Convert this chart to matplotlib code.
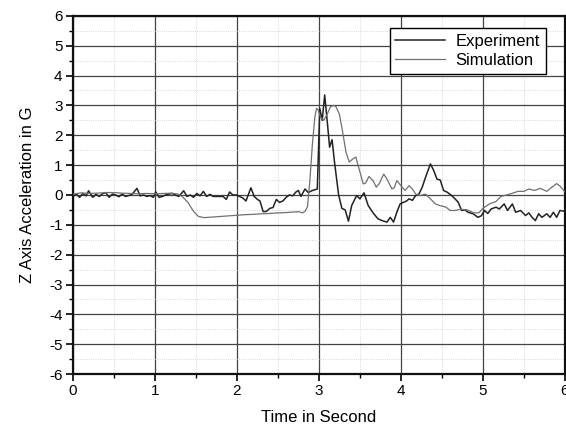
import numpy as np
import matplotlib
matplotlib.use('Agg')
import matplotlib.pyplot as plt
from matplotlib.ticker import MultipleLocator

# experiment (measured) z-axis acceleration
exp_t = [0.00, 0.04, 0.08, 0.12, 0.16, 0.19, 0.24, 0.28, 0.32, 0.36, 0.40, 0.44, 0.48, 0.52,
         0.56, 0.60, 0.64, 0.68, 0.72, 0.78, 0.82, 0.86, 0.90, 0.94, 0.98, 1.01, 1.05, 1.09,
         1.13, 1.17, 1.21, 1.25, 1.29, 1.35, 1.39, 1.43, 1.47, 1.51, 1.55, 1.59, 1.63, 1.67,
         1.71, 1.75, 1.79, 1.83, 1.87, 1.91, 1.95, 1.99, 2.03, 2.07, 2.11, 2.17, 2.21, 2.25,
         2.28, 2.32, 2.36, 2.40, 2.44, 2.48, 2.52, 2.56, 2.60, 2.64, 2.68, 2.72, 2.75, 2.78,
         2.83, 2.87, 2.92, 2.98, 3.01, 3.04, 3.07, 3.10, 3.13, 3.16, 3.19, 3.24, 3.28, 3.32,
         3.36, 3.40, 3.46, 3.50, 3.55, 3.60, 3.66, 3.72, 3.77, 3.83, 3.87, 3.91, 3.95, 3.99,
         4.03, 4.07, 4.10, 4.14, 4.18, 4.22, 4.26, 4.30, 4.36, 4.40, 4.44, 4.48, 4.52, 4.56,
         4.62, 4.66, 4.70, 4.74, 4.78, 4.82, 4.88, 4.94, 4.98, 5.02, 5.06, 5.10, 5.16, 5.20,
         5.26, 5.30, 5.36, 5.40, 5.46, 5.52, 5.56, 5.60, 5.64, 5.68, 5.72, 5.78, 5.82, 5.86,
         5.90, 5.94, 6.00]
exp_g = [-0.05, 0.03, -0.08, 0.05, -0.03, 0.14, -0.08, 0.02, -0.05, 0.04, 0.08, -0.08, 0.03, 0.00,
         -0.06, 0.03, -0.05, -0.02, 0.02, 0.22, -0.03, 0.00, -0.05, -0.02, -0.08, 0.10, -0.08, -0.05,
         0.00, 0.03, 0.05, 0.00, -0.05, 0.14, -0.05, 0.00, -0.08, 0.05, -0.03, 0.12, -0.05, 0.02,
         -0.05, -0.05, -0.05, -0.05, -0.15, 0.10, 0.00, 0.00, -0.05, -0.10, -0.20, 0.24, -0.05, -0.15,
         -0.20, -0.56, -0.55, -0.45, -0.42, -0.15, -0.25, -0.20, -0.08, 0.00, -0.03, 0.10, 0.15, -0.05,
         0.20, 0.08, 0.15, 0.20, 2.90, 2.50, 3.35, 2.50, 1.60, 1.85, 1.10, 0.00, -0.45, -0.50,
         -0.88, -0.35, -0.02, -0.13, 0.07, -0.35, -0.60, -0.80, -0.86, -0.91, -0.75, -0.91, -0.58, -0.30,
         -0.25, -0.20, -0.13, -0.18, -0.02, 0.03, 0.26, 0.59, 1.04, 0.82, 0.53, 0.50, 0.15, 0.10,
         -0.02, -0.13, -0.25, -0.52, -0.50, -0.58, -0.63, -0.75, -0.70, -0.52, -0.62, -0.47, -0.41, -0.47,
         -0.30, -0.52, -0.30, -0.58, -0.52, -0.69, -0.60, -0.75, -0.86, -0.63, -0.75, -0.63, -0.75, -0.58,
         -0.75, -0.52, -0.55]

# simulation
sim_t = [0.0, 0.1, 0.2, 0.3, 0.4, 0.5, 0.6, 0.7, 0.8, 0.9, 1.0, 1.1, 1.2, 1.28, 1.33, 1.40, 1.47,
         1.53, 1.60, 1.70, 1.80, 1.90, 2.00, 2.10, 2.20, 2.30, 2.40, 2.50, 2.60, 2.70, 2.75, 2.80,
         2.83, 2.86, 2.89, 2.92, 2.95, 2.97, 2.99, 3.02, 3.06, 3.10, 3.14, 3.18, 3.21, 3.25, 3.29,
         3.33, 3.37, 3.41, 3.45, 3.49, 3.54, 3.57, 3.61, 3.66, 3.70, 3.74, 3.79, 3.83, 3.89, 3.92,
         3.95, 4.00, 4.05, 4.10, 4.14, 4.18, 4.24, 4.30, 4.36, 4.42, 4.48, 4.55, 4.60, 4.66, 4.73,
         4.81, 4.89, 4.95, 5.00, 5.08, 5.16, 5.22, 5.29, 5.35, 5.43, 5.50, 5.56, 5.63, 5.70, 5.78,
         5.86, 5.90, 5.94, 6.00]
sim_g = [0.03, 0.07, 0.05, 0.06, 0.08, 0.08, 0.06, 0.05, 0.04, 0.05, 0.04, 0.05, 0.06, 0.03, -0.05,
         -0.24, -0.55, -0.72, -0.76, -0.74, -0.72, -0.70, -0.68, -0.66, -0.65, -0.63, -0.62, -0.60,
         -0.59, -0.57, -0.56, -0.60, -0.55, -0.40, 0.50, 1.70, 2.60, 2.90, 2.85, 2.60, 2.50, 2.70,
         2.95, 3.00, 2.95, 2.70, 2.10, 1.43, 1.10, 1.20, 1.27, 0.87, 0.37, 0.40, 0.62, 0.48, 0.26,
         0.40, 0.70, 0.53, 0.20, 0.25, 0.48, 0.31, 0.15, 0.31, 0.20, 0.03, -0.02, 0.03, -0.13, -0.30,
         -0.36, -0.41, -0.52, -0.52, -0.48, -0.50, -0.60, -0.60, -0.45, -0.30, -0.22, -0.05, 0.00,
         0.05, 0.12, 0.12, 0.20, 0.15, 0.22, 0.12, 0.30, 0.38, 0.30, 0.10]

plt.rcParams['font.family'] = ['Liberation Sans', 'DejaVu Sans']
plt.rcParams['axes.unicode_minus'] = False

fig = plt.figure(figsize=(5.66, 4.28), dpi=100)
ax = fig.add_axes([0.129, 0.126, 0.869, 0.837])

ax.plot(exp_t, exp_g, color='#222222', lw=1.1, label='Experiment', zorder=3)
ax.plot(sim_t, sim_g, color='#707070', lw=0.9, label='Simulation', zorder=3)

ax.set_xlim(0, 6)
ax.set_ylim(-6, 6)
ax.xaxis.set_major_locator(MultipleLocator(1))
ax.xaxis.set_minor_locator(MultipleLocator(0.5))
ax.yaxis.set_major_locator(MultipleLocator(1))
ax.yaxis.set_minor_locator(MultipleLocator(0.5))

ax.grid(which='major', color='#444444', lw=0.9, ls='-')
ax.grid(which='minor', color='#cccccc', lw=0.6, ls=':')
ax.set_axisbelow(True)

ax.tick_params(which='major', direction='out', length=5, width=1.2, labelsize=11,
               color='black', pad=2.5)
ax.tick_params(which='minor', direction='out', length=3, width=1.0)
for s in ax.spines.values():
    s.set_linewidth(1.6)
    s.set_color('#111111')

ax.set_xlabel('Time in Second', fontsize=12, labelpad=8)
ax.set_ylabel('Z Axis Acceleration in G', fontsize=12, labelpad=10)

leg = ax.legend(loc='upper right', bbox_to_anchor=(0.961, 0.966), fontsize=12, fancybox=False,
                framealpha=1, edgecolor='black', handlelength=3.0, borderpad=0.35,
                labelspacing=0.25, handletextpad=0.6, borderaxespad=0)
leg.get_frame().set_linewidth(1.0)

fig.savefig('out.png', dpi=100)
